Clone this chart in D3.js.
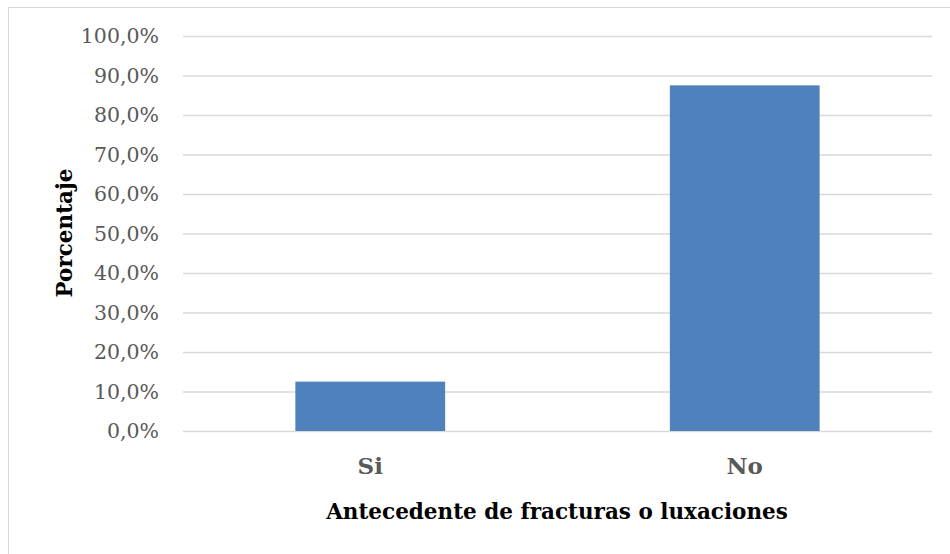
<!DOCTYPE html>
<meta charset="UTF-8">
<html lang="en">
<head><link rel="icon" href="data:,"></head>
<style>
body { margin: 0; background: #fff; }
svg text { font-family: "DejaVu Serif", serif; }
.tick text { fill: #595959; font-size: 20.5px; }
.cat text { fill: #595959; font-size: 23px; font-weight: bold; }
.title { fill: #000; font-size: 21.5px; font-weight: bold; }
</style>
<script src="https://d3js.org/d3.v7.min.js"></script>
<body>
<svg id="view"></svg>
</body>
<script>
const categories = ["Si", "No"];
const values = [12.5, 87.5];
const yTicks = [0, 10, 20, 30, 40, 50, 60, 70, 80, 90, 100];

const dims = { width: 950, height: 554 };
const plot = { left: 183, right: 932, top: 36, bottom: 431 };

const svg = d3.select("svg#view")
    .attr("width", dims.width)
    .attr("height", dims.height);

// chart frame
svg.append("rect")
    .attr("x", 8.5).attr("y", 7.5)
    .attr("width", 950).attr("height", 560)
    .attr("fill", "none")
    .attr("stroke", "#d9d9d9");

const x = d3.scaleBand()
    .domain(categories)
    .range([plot.left, plot.right])
    .paddingInner(0.6)
    .paddingOuter(0.3);

const y = d3.scaleLinear()
    .domain([0, 100])
    .range([plot.bottom, plot.top]);

// gridlines + y labels
const yAxis = d3.axisLeft(y)
    .tickValues(yTicks)
    .tickSize(-(plot.right - plot.left))
    .tickPadding(24)
    .tickFormat(d => d.toFixed(1).replace(".", ",") + "%");

const gy = svg.append("g")
    .attr("transform", `translate(${plot.left},0)`)
    .call(yAxis);
gy.select(".domain").remove();
gy.selectAll(".tick line").attr("stroke", "#d9d9d9").attr("stroke-width", 1.5);

// bars
svg.append("g")
    .selectAll("rect")
    .data(values)
    .enter()
    .append("rect")
    .attr("x", (d, i) => x(categories[i]))
    .attr("y", d => y(d))
    .attr("width", x.bandwidth())
    .attr("height", d => y(0) - y(d))
    .attr("fill", "#4f81bd");

// x labels
const gx = svg.append("g")
    .attr("class", "cat")
    .attr("transform", `translate(0,${plot.bottom})`)
    .call(d3.axisBottom(x).tickSize(0).tickPadding(27));
gx.select(".domain").remove();

svg.append("text")
    .attr("class", "title")
    .attr("x", 557).attr("y", 519)
    .attr("text-anchor", "middle")
    .text("Antecedente de fracturas o luxaciones");

svg.append("text")
    .attr("class", "title")
    .attr("transform", "translate(72,233) rotate(-90)")
    .attr("text-anchor", "middle")
    .text("Porcentaje");
</script>
</html>
